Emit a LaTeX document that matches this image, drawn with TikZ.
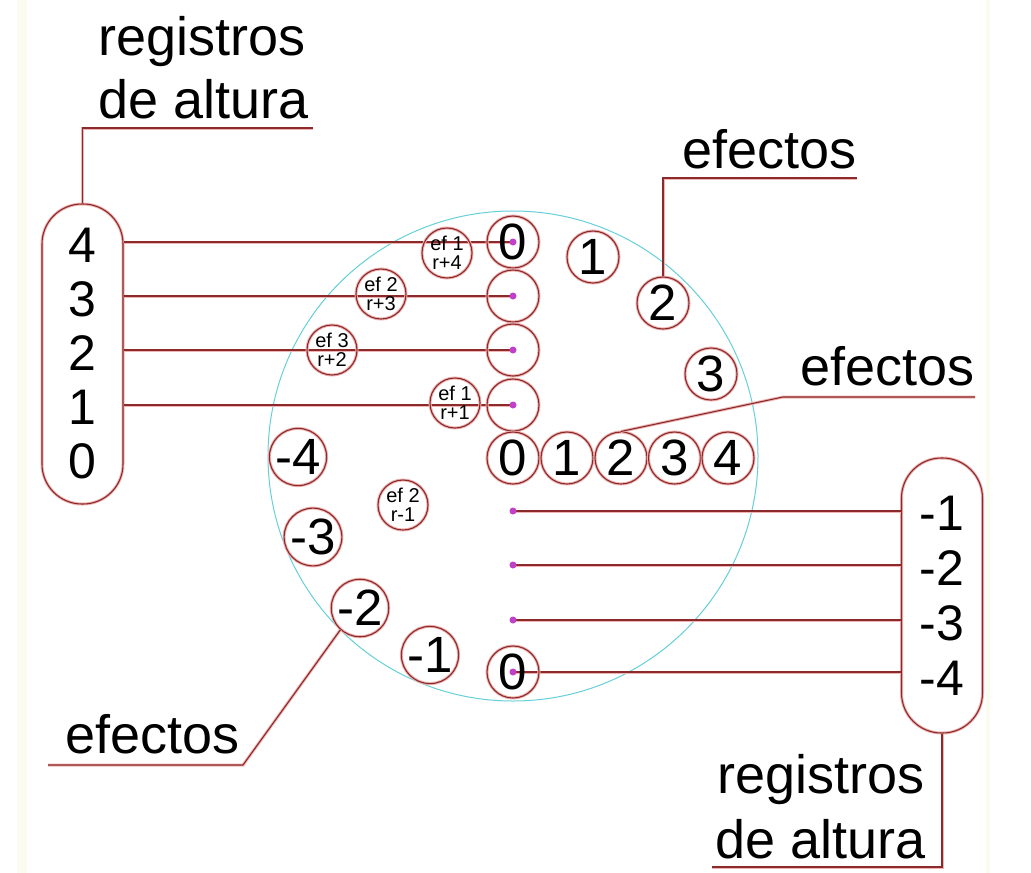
\documentclass[tikz,border=0pt]{standalone}
\usepackage{fontspec}
\setmainfont{Liberation Sans}
\definecolor{lred}{HTML}{8A2A2A}
\definecolor{halo}{HTML}{F0B4B4}
\definecolor{cyanc}{HTML}{66D0D8}
\definecolor{dotc}{HTML}{C040C8}
\definecolor{cream}{HTML}{FBFBF0}
\tikzset{
  lead/.style={draw=lred, line width=1.1pt, preaction={draw=halo, line width=3pt}},
  numc/.style={circle, lead, minimum size=52pt, inner sep=0pt, font=\fontsize{51}{51}\selectfont},
  efc/.style={circle, lead, minimum size=50pt, inner sep=0pt, align=center, font=\fontsize{20}{18.5}\selectfont},
  pdot/.style={circle, fill=dotc, minimum size=7pt, inner sep=0pt},
  pill/.style={rectangle, lead, rounded corners=40pt, minimum width=81pt, align=center, inner sep=0pt, font=\fontsize{50}{54}\selectfont},
  big/.style={font=\fontsize{54}{63}\selectfont, inner sep=0pt, anchor=base west},
}
\begin{document}
\begin{tikzpicture}[x=1pt,y=-1pt]
\useasboundingbox (0,0) rectangle (1031,873);
\fill[white] (0,0) rectangle (1031,873);
\fill[cream] (17,0) rectangle (27,873);
\fill[cream] (986,0) rectangle (990,873);
\node[circle, draw=cyanc, line width=1pt, minimum size=490pt, inner sep=0pt] (rim) at (513,456) {};

% pills
\node[pill, minimum height=300pt] (L) at (82.5,354) {4\\3\\2\\1\\0};
\node[pill, minimum height=275pt, font=\fontsize{50}{55}\selectfont] (R) at (942,595.5) {-1\\-2\\-3\\-4};

% dot positions
\foreach \n/\y in {d4/242,d3/296,d2/350,d1/405,n1/511,n2/565,n3/620,n4/672}
  \coordinate (\n) at (513,\y);

% register lines
\foreach \n in {d4,d3,d2,d1} \draw[lead] (L.east |- \n) -- (\n);
\foreach \n in {n1,n2,n3,n4} \draw[lead] (\n) -- (R.west |- \n);

% column and row circles
\node[numc] (z0) at (513,242) {0};
\node[numc] (e3) at (513,296) {};
\node[numc] (e2) at (513,350) {};
\node[numc] (e1) at (513,405) {};
\node[numc] (r0) at (513,458) {0};
\node[numc] (r1) at (567,458) {1};
\node[numc] (r2) at (621,458) {2};
\node[numc] (r3) at (674.5,458) {3};
\node[numc] (r4) at (728,458) {4};

% arc circles
\node[numc] (c1) at (593,257) {1};
\node[numc] (c2) at (663,303) {2};
\node[numc] (c3) at (711,374) {3};
\node[numc] (m4) at (298,457) {-4};
\node[numc] (m3) at (313,537) {-3};
\node[numc] (m2) at (360,608) {-2};
\node[numc] (m1) at (430,655) {-1};
\node[numc] (b0) at (513,672) {0};

% effect circles
\node[efc] (s1) at (447,253) {ef 1\\r+4};
\node[efc] (s2) at (381,294) {ef 2\\r+3};
\node[efc] (s3) at (332,350) {ef 3\\r+2};
\node[efc] (s4) at (455,403) {ef 1\\r+1};
\node[efc] (s5) at (403,505) {ef 2\\r-1};

% dots
\foreach \n in {d4,d3,d2,d1,n1,n2,n3,n4} \node[pdot] (p\n) at (\n) {};

% leaders
\coordinate (lt) at (313,128);
\draw[lead] (L.north) |- (lt);
\coordinate (t1) at (857,178);
\draw[lead] (c2.north) |- (t1);
\coordinate (k1) at (783,397);
\coordinate (k2) at (975,397);
\draw[lead] (r2.north) -- (k1) -- (k2);
\coordinate (b1) at (243,765);
\coordinate (b2) at (48,765);
\draw[lead] (m2.228) -- (b1) -- (b2);
\coordinate (rb) at (712,867);
\draw[lead] (R.south) |- (rb);

% labels
\node[big] (ta) at (98,55) {registros};
\node[big] (tb) at (98,118) {de altura};
\node[big] (ef1) at (682,168) {efectos};
\node[big] (ef2) at (800,385) {efectos};
\node[big] (ef3) at (65,753) {efectos};
\node[big] (ba) at (717,793) {registros};
\node[big] (bb) at (715,858) {de altura};
\end{tikzpicture}
\end{document}
